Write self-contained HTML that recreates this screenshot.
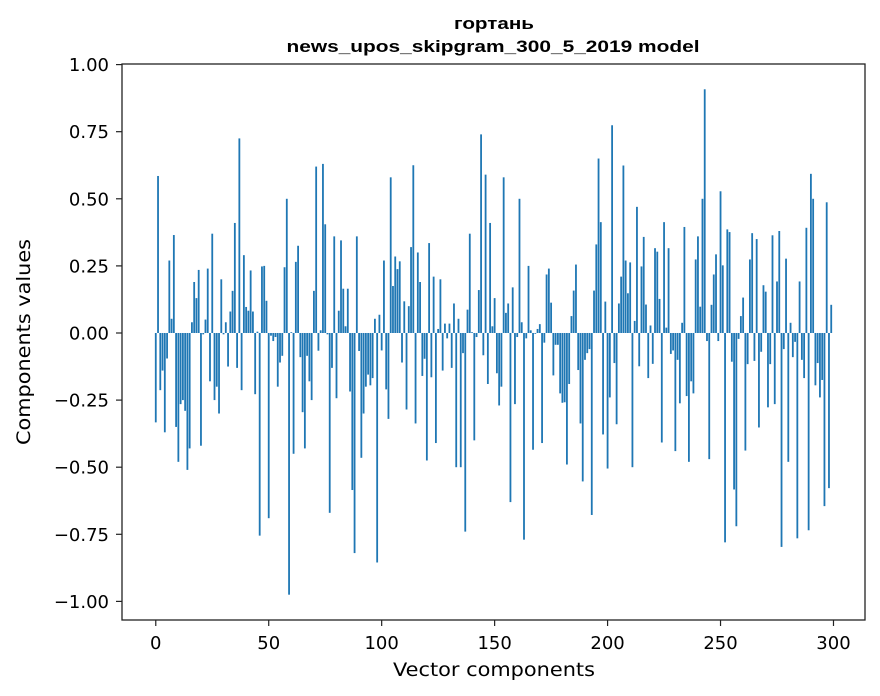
<!DOCTYPE html>
<html><head><meta charset="utf-8"><style>
body{margin:0;background:#fff;}
svg{display:block;font-family:"DejaVu Sans","Liberation Sans",sans-serif;}
</style></head><body>
<svg id="chart" width="880" height="696">
<text x="494" y="29" text-anchor="middle" font-size="17" font-weight="bold" font-family="Liberation Sans, sans-serif" textLength="80" lengthAdjust="spacingAndGlyphs">гортань</text>
<text x="493" y="52" text-anchor="middle" font-size="17" font-weight="bold" font-family="Liberation Sans, sans-serif" textLength="413" lengthAdjust="spacingAndGlyphs">news_upos_skipgram_300_5_2019 model</text>
<g id="bars"></g>
<g id="xticks"></g>
<g id="yticks"></g>
<rect x="122" y="64" width="743" height="556" fill="none" stroke="#222" stroke-width="1.3"/>
<text x="494" y="676" text-anchor="middle" font-size="19" textLength="202" lengthAdjust="spacingAndGlyphs">Vector components</text>
<text transform="translate(30,342) rotate(-90)" text-anchor="middle" font-size="19" textLength="206" lengthAdjust="spacingAndGlyphs">Components values</text>
</svg>
<script>
const values = [
-0.333,0.585,-0.213,-0.14,-0.37,-0.095,0.27,0.053,0.365,-0.35,
-0.48,-0.265,-0.25,-0.29,-0.51,-0.43,0.04,0.19,0.13,0.235,
-0.42,-0.005,0.05,0.24,-0.18,0.37,-0.25,-0.2,-0.3,0.2,
-0.005,0.04,-0.125,0.08,0.157,0.41,-0.13,0.725,-0.213,0.29,
0.097,0.083,0.233,0.08,-0.228,0.005,-0.755,0.248,0.25,0.12,
-0.69,-0.01,-0.03,-0.015,-0.2,-0.11,-0.085,0.245,0.5,-0.975,
0.003,-0.45,0.265,0.325,-0.09,-0.295,-0.43,-0.085,-0.18,-0.25,
0.157,0.62,-0.066,0.01,0.63,0.405,-0.005,-0.67,-0.13,0.36,
-0.243,0.083,0.345,0.165,0.025,0.165,-0.218,-0.585,-0.82,0.36,
-0.067,-0.465,-0.3,-0.2,-0.155,-0.195,-0.168,0.053,-0.855,0.068,
-0.065,0.27,-0.21,-0.32,0.58,0.175,0.285,0.238,0.267,-0.11,
0.118,-0.285,0.1,0.32,0.625,-0.337,0.3,0.19,-0.16,-0.096,
-0.475,0.335,-0.165,0.21,-0.41,0.015,0.2,-0.14,0.035,-0.02,
0.035,-0.13,0.11,-0.5,0.053,-0.5,-0.075,-0.74,0.087,0.37,
0.003,-0.4,-0.015,0.16,0.74,-0.083,0.59,-0.19,0.41,0.025,
0.13,-0.15,-0.27,-0.2,0.58,0.075,0.11,-0.63,0.17,-0.265,
-0.015,0.5,0.04,-0.77,-0.02,0.25,0.01,-0.435,-0.003,0.015,
0.033,-0.41,-0.036,0.218,0.24,0.113,-0.158,-0.044,-0.044,-0.225,
-0.26,-0.258,-0.49,-0.19,0.063,0.158,0.255,-0.138,-0.337,-0.553,
-0.1,-0.075,-0.06,-0.678,0.158,0.33,0.65,0.413,-0.378,0.117,
-0.505,-0.24,0.774,-0.112,-0.34,0.11,0.21,0.624,0.27,0.148,
0.263,-0.5,0.045,0.47,-0.124,0.248,0.358,0.106,-0.168,0.028,
-0.115,0.316,0.303,0.127,-0.408,0.413,0.02,0.316,-0.078,-0.065,
-0.44,-0.1,-0.262,0.038,0.395,-0.235,-0.48,-0.18,-0.225,0.274,
0.36,0.098,0.5,0.908,-0.03,-0.47,0.105,0.218,0.293,-0.03,
0.528,0.252,-0.78,0.386,0.376,-0.107,-0.583,-0.72,-0.022,0.063,
0.132,-0.438,-0.116,0.274,0.372,-0.104,0.35,-0.352,-0.07,0.178,
0.154,-0.277,-0.116,0.364,-0.265,0.192,0.38,-0.797,-0.06,0.277,
-0.48,0.038,-0.09,-0.033,-0.765,0.192,-0.1,-0.168,0.392,-0.735,
0.593,0.5,-0.195,-0.112,-0.24,-0.175,-0.645,0.487,-0.578,0.105
];
const xTickLabels = [0,50,100,150,200,250,300];
const yTickLabels = [-1.00,-0.75,-0.50,-0.25,0.00,0.25,0.50,0.75,1.00];

const NS="http://www.w3.org/2000/svg";
const L=122,R=865,T=64,B=620;
const xmin=-14.95,xmax=313.95,ymin=-1.0693,ymax=1.0022;
function xs(v){return L+(v-xmin)/(xmax-xmin)*(R-L);}
function ys(v){return T+(ymax-v)/(ymax-ymin)*(B-T);}
const bars=document.getElementById('bars');
values.forEach((v,i)=>{
  const r=document.createElementNS(NS,'rect');
  const x0=xs(i-0.4),x1=xs(i+0.4);
  const y0=ys(Math.max(v,0)),y1=ys(Math.min(v,0));
  r.setAttribute('x',x0);r.setAttribute('width',x1-x0);
  r.setAttribute('y',y0);r.setAttribute('height',Math.max(y1-y0,0.3));
  r.setAttribute('fill','#1f77b4');
  
  
  bars.appendChild(r);
});
const xg=document.getElementById('xticks');
xTickLabels.forEach(t=>{
  const x=xs(t);
  const l=document.createElementNS(NS,'line');
  l.setAttribute('x1',x);l.setAttribute('x2',x);l.setAttribute('y1',B);l.setAttribute('y2',B+6);
  l.setAttribute('stroke','#222');l.setAttribute('stroke-width','1.2');
  
  
  xg.appendChild(l);
  const tx=document.createElementNS(NS,'text');
  tx.setAttribute('x',x);tx.setAttribute('y',B+29);tx.setAttribute('text-anchor','middle');tx.setAttribute('font-size','18');
  tx.textContent=t;
  
  
  xg.appendChild(tx);
});
const yg=document.getElementById('yticks');
yTickLabels.forEach(t=>{
  const y=ys(t);
  const l=document.createElementNS(NS,'line');
  l.setAttribute('x1',L-6);l.setAttribute('x2',L);l.setAttribute('y1',y);l.setAttribute('y2',y);
  l.setAttribute('stroke','#222');l.setAttribute('stroke-width','1.2');
  
  
  yg.appendChild(l);
  const tx=document.createElementNS(NS,'text');
  tx.setAttribute('x',L-13);tx.setAttribute('y',y+6.5);tx.setAttribute('text-anchor','end');tx.setAttribute('font-size','18');
  tx.textContent=(t<0?'\u2212':'')+Math.abs(t).toFixed(2);
  
  
  yg.appendChild(tx);
});
</script>
</body></html>
